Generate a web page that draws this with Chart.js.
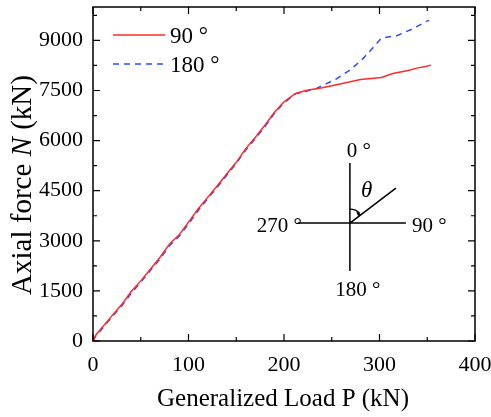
<!DOCTYPE html>
<html>
<head>
<meta charset="utf-8">
<script src="https://cdn.jsdelivr.net/npm/chart.js@4.4.1/dist/chart.umd.min.js"></script>
<style>
  html, body { margin: 0; padding: 0; background: #fff; }
  #wrap { width: 491px; height: 417px; position: relative; }
</style>
</head>
<body>
<div id="wrap"><canvas id="axialChart"></canvas></div>
<script>
// Generalized load P (kN) vs axial force N (kN)
const p90 = [0, 3, 10, 20, 30, 40, 50, 60, 70, 80, 90, 100, 110, 120, 130, 140, 150, 160, 170, 180, 190, 200, 212,
  224, 240, 260, 280, 302, 314, 330, 339, 348, 354];
const n90 = [0, 180, 420, 760, 1090, 1480, 1800, 2150, 2500, 2900, 3170, 3560, 3950, 4300, 4640, 5000, 5350, 5760, 6100, 6460, 6850, 7160, 7410,
  7510, 7580, 7700, 7830, 7890, 8010, 8100, 8170, 8220, 8260];

const p180 = [0, 3, 10, 20, 30, 40, 50, 60, 70, 80, 90, 100, 110, 120, 130, 140, 150, 160, 170, 180, 190, 200, 212,
  234, 255, 269, 283, 294, 302, 318, 335, 349, 352];
const n180 = [0, 150, 380, 730, 1050, 1430, 1760, 2110, 2450, 2850, 3130, 3500, 3900, 4260, 4600, 4960, 5320, 5720, 6060, 6420, 6820, 7130, 7400,
  7560, 7850, 8110, 8460, 8810, 9070, 9140, 9350, 9570, 9600];

const xTicks = [0, 100, 200, 300, 400];
const yTicks = [0, 1500, 3000, 4500, 6000, 7500, 9000];

const serif = "'Liberation Serif', 'DejaVu Serif', serif";

function toPoints(xs, ys) {
  return xs.map((x, i) => ({ x: x, y: ys[i] }));
}

// box, inward ticks, legend, titles and the angle sketch
const decorPlugin = {
  id: 'decor',
  afterDatasetsDraw(chart) {
    const { ctx, chartArea: a, scales } = chart;
    const xs = scales.x, ys = scales.y;
    ctx.save();
    ctx.strokeStyle = '#000';
    ctx.fillStyle = '#000';
    ctx.lineWidth = 1.5;
    ctx.strokeRect(a.left, a.top, a.right - a.left, a.bottom - a.top);

    // inward ticks: major + minor
    ctx.lineWidth = 1.2;
    ctx.beginPath();
    for (let v = 0; v <= 400; v += 50) {
      const px = xs.getPixelForValue(v);
      const len = v % 100 === 0 ? 7 : 4;
      ctx.moveTo(px, a.bottom); ctx.lineTo(px, a.bottom - len);
      ctx.moveTo(px, a.top); ctx.lineTo(px, a.top + len);
    }
    for (let v = 0; v <= 9750; v += 750) {
      const py = ys.getPixelForValue(v);
      const len = v % 1500 === 0 ? 7 : 4;
      ctx.moveTo(a.left, py); ctx.lineTo(a.left + len, py);
      ctx.moveTo(a.right, py); ctx.lineTo(a.right - len, py);
    }
    ctx.stroke();

    // legend
    ctx.font = '23px ' + serif;
    ctx.textAlign = 'left';
    ctx.textBaseline = 'alphabetic';
    chart.data.datasets.forEach((ds, i) => {
      const y = a.top + 28 + i * 29;
      ctx.save();
      ctx.strokeStyle = ds.borderColor;
      ctx.lineWidth = ds.borderWidth;
      ctx.setLineDash(ds.borderDash || []);
      ctx.beginPath();
      ctx.moveTo(a.left + 20, y); ctx.lineTo(a.left + 72, y);
      ctx.stroke();
      ctx.restore();
      ctx.fillText(ds.label, a.left + 77, y + 8);
    });

    // axis titles
    ctx.textAlign = 'center';
    ctx.font = '25px ' + serif;
    ctx.fillText('Generalized Load P (kN)', 283, 406);

    ctx.save();
    ctx.translate(31, 185);
    ctx.rotate(-Math.PI / 2);
    const parts = [['Axial force ', 'normal'], ['N', 'italic'], [' (kN)', 'normal']];
    let total = 0;
    parts.forEach(p => { ctx.font = p[1] + ' 29px ' + serif; total += ctx.measureText(p[0]).width; });
    let cx = -total / 2;
    ctx.textAlign = 'left';
    parts.forEach(p => {
      ctx.font = p[1] + ' 29px ' + serif;
      ctx.fillText(p[0], cx, 0);
      cx += ctx.measureText(p[0]).width;
    });
    ctx.restore();

    // angle sketch, anchored in data space
    const ox = xs.getPixelForValue(269);
    const oy = ys.getPixelForValue(3530);
    ctx.lineWidth = 1.5;
    ctx.beginPath();
    ctx.moveTo(ox, oy - 60); ctx.lineTo(ox, oy + 48);
    ctx.moveTo(ox - 52, oy); ctx.lineTo(ox + 56, oy);
    ctx.moveTo(ox, oy); ctx.lineTo(ox + 46, oy - 35);
    ctx.stroke();
    const ang = Math.atan2(-35, 46);
    ctx.lineWidth = 1.2;
    ctx.beginPath();
    ctx.arc(ox, oy, 14, -Math.PI / 2, ang - 0.12);
    ctx.stroke();
    const hx = ox + 14 * Math.cos(ang), hy = oy + 14 * Math.sin(ang);
    ctx.beginPath();
    ctx.moveTo(hx, hy);
    ctx.lineTo(hx - 5, hy - 3.5);
    ctx.lineTo(hx - 3, hy + 1.5);
    ctx.closePath();
    ctx.fill();

    ctx.font = '21px ' + serif;
    ctx.textAlign = 'center';
    ctx.fillText('0 °', ox + 9, oy - 66);
    ctx.fillText('180 °', ox + 8, oy + 73);
    ctx.textAlign = 'right';
    ctx.fillText('270 °', ox - 48, oy + 9);
    ctx.textAlign = 'left';
    ctx.fillText('90 °', ox + 62, oy + 9);
    ctx.font = 'italic 23px ' + serif;
    ctx.fillText('θ', ox + 11, oy - 26);
    ctx.restore();
  }
};

function noEdgePadding(s) {
  s.paddingTop = 0; s.paddingBottom = 0; s.paddingLeft = 0; s.paddingRight = 0;
}

new Chart(document.getElementById('axialChart'), {
  type: 'scatter',
  data: {
    datasets: [
      {
        label: '90 °',
        data: toPoints(p90, n90),
        showLine: true,
        borderColor: '#ff2a2a',
        borderWidth: 1.5,
        pointRadius: 0,
        tension: 0
      },
      {
        label: '180 °',
        data: toPoints(p180, n180),
        showLine: true,
        borderColor: '#2a4dff',
        borderWidth: 1.5,
        borderDash: [6, 5],
        pointRadius: 0,
        tension: 0
      }
    ]
  },
  options: {
    responsive: true,
    maintainAspectRatio: false,
    animation: false,
    layout: { padding: { left: 0, right: 16, top: 7, bottom: 0 } },
    plugins: {
      legend: { display: false },
      tooltip: { enabled: false }
    },
    scales: {
      x: {
        type: 'linear',
        min: 0,
        max: 400,
        grid: { display: false, drawTicks: false },
        border: { display: false },
        afterBuildTicks: s => { s.ticks = xTicks.map(v => ({ value: v })); },
        afterFit: s => { s.height = 76; noEdgePadding(s); },
        ticks: { color: '#000', font: { family: serif, size: 22 }, padding: 11, maxRotation: 0, callback: v => String(v) }
      },
      y: {
        type: 'linear',
        min: 0,
        max: 10000,
        grid: { display: false, drawTicks: false },
        border: { display: false },
        afterBuildTicks: s => { s.ticks = yTicks.map(v => ({ value: v })); },
        afterFit: s => { s.width = 93; noEdgePadding(s); },
        ticks: { color: '#000', font: { family: serif, size: 22 }, padding: 10, callback: v => String(v) }
      }
    }
  },
  plugins: [decorPlugin]
});
</script>
</body>
</html>
